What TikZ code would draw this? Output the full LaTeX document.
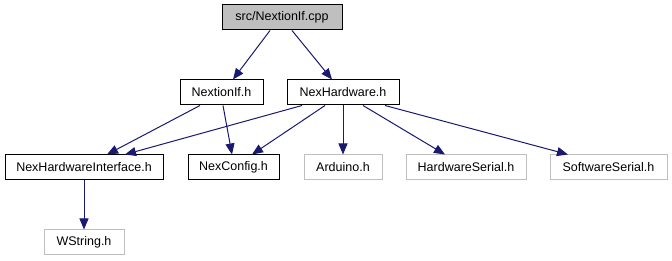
\documentclass[tikz,border=0pt]{standalone}
\usepackage{fontspec}
\setmainfont{Liberation Sans}
\usetikzlibrary{arrows.meta}
\definecolor{edgeblue}{HTML}{191970}
\definecolor{extgrey}{HTML}{BFBFBF}
\tikzset{
  filebox/.style={draw=black, line width=1pt, inner sep=0pt, minimum height=25pt,
    font=\fontsize{12.5}{15}\selectfont},
  extbox/.style={filebox, draw=extgrey},
  rootbox/.style={filebox, fill=extgrey},
  dep/.style={draw=edgeblue, line width=1pt,
    -{Triangle[length=11pt,width=9pt]}},
}
\begin{document}
\begin{tikzpicture}[x=1pt, y=-1pt]
  \useasboundingbox (0,0) rectangle (672,261);

  % files
  \node[rootbox, minimum width=120pt] (cpp)  at (282,17.5)   {src/NextionIf.cpp};
  \node[filebox, minimum width=83pt]  (nif)  at (221.5,92.5) {NextionIf.h};
  \node[filebox, minimum width=112pt] (nhw)  at (343,92.5)   {NexHardware.h};
  \node[filebox, minimum width=158pt] (nhi)  at (84,167.5)   {NexHardwareInterface.h};
  \node[filebox, minimum width=91pt]  (ncfg) at (233.5,167.5){NexConfig.h};
  \node[extbox,  minimum width=78pt]  (ard)  at (343,167.5)  {Arduino.h};
  \node[extbox,  minimum width=120pt] (hws)  at (466,167.5)  {HardwareSerial.h};
  \node[extbox,  minimum width=117pt] (sws)  at (608.5,167.5){SoftwareSerial.h};
  \node[extbox,  minimum width=80pt]  (wst)  at (84,242.5)   {WString.h};

  % include edges
  \draw[dep] ([xshift=-12pt]cpp.south) -- ([xshift=11.5pt]nif.north);
  \draw[dep] ([xshift=10pt]cpp.south)  -- ([xshift=-11pt]nhw.north);

  \draw[dep] ([xshift=-21.5pt]nif.south) -- ([xshift=23pt]nhi.north);
  \draw[dep] ([xshift=1.5pt]nif.south)   -- ([xshift=-1.5pt]ncfg.north);

  \draw[dep] ([xshift=-41pt]nhw.south) -- ([xshift=41pt]nhi.north);
  \draw[dep] ([xshift=-18pt]nhw.south) -- ([xshift=18.5pt]ncfg.north);
  \draw[dep] (nhw.south) -- (ard.north);
  \draw[dep] ([xshift=20pt]nhw.south) -- ([xshift=-21pt]hws.north);
  \draw[dep] ([xshift=42pt]nhw.south) -- ([xshift=-40.5pt]sws.north);

  \draw[dep] (nhi.south) -- (wst.north);
\end{tikzpicture}
\end{document}
